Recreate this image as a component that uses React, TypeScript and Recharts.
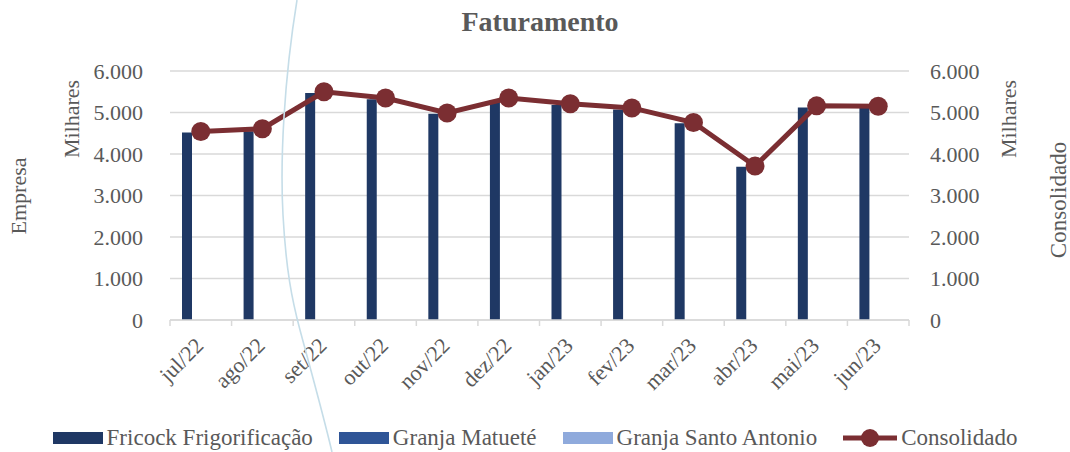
import React from 'react';
import { ComposedChart, Bar, Line, XAxis, YAxis, CartesianGrid } from 'recharts';

const months = ['jul/22', 'ago/22', 'set/22', 'out/22', 'nov/22', 'dez/22', 'jan/23', 'fev/23', 'mar/23', 'abr/23', 'mai/23', 'jun/23'];
const fricock = [4520, 4550, 5470, 5320, 4970, 5300, 5180, 5070, 4740, 3690, 5120, 5110];
const matuete = [0, 0, 0, 0, 0, 0, 0, 0, 0, 0, 0, 0];
const santoAntonio = [0, 0, 0, 0, 0, 0, 0, 0, 0, 0, 0, 0];
const consolidado = [4540, 4610, 5500, 5350, 4990, 5350, 5210, 5110, 4760, 3710, 5160, 5150];
const yTicks = [0, 1000, 2000, 3000, 4000, 5000, 6000];

const GREY = '#595959';
const GRID = '#D9D9D9';
const FONT = '"Liberation Serif", "Times New Roman", serif';

const series = [
  { key: 'fricock', name: 'Fricock Frigorificação', color: '#1F3864' },
  { key: 'matuete', name: 'Granja Matueté', color: '#2F5597' },
  { key: 'santoAntonio', name: 'Granja Santo Antonio', color: '#8FAADC' },
];
const lineColor = '#7B2E32';

const data = months.map((m, i) => ({
  month: m,
  fricock: fricock[i],
  matuete: matuete[i],
  santoAntonio: santoAntonio[i],
  consolidado: consolidado[i],
}));

const fmt = (v: number) => String(v).replace(/\B(?=(\d{3})+(?!\d))/g, '.');

const XTick = (props: any) => {
  const { x, y, payload, index } = props;
  const half = payload && payload.offset ? payload.offset : 30.8;
  const last = index === months.length - 1;
  return (
    <g>
      <line x1={x - half} y1={y} x2={x - half} y2={y + 6} stroke={GRID} strokeWidth={1.5} />
      {last && <line x1={x + half} y1={y} x2={x + half} y2={y + 6} stroke={GRID} strokeWidth={1.5} />}
      <text
        x={0}
        y={0}
        transform={`translate(${x + 4},${y + 27}) rotate(-45)`}
        textAnchor="end"
        fill={GREY}
        fontSize={22}
        fontFamily={FONT}
      >
        {payload.value}
      </text>
    </g>
  );
};

export default function App() {
  return (
    <div style={{ position: 'absolute', left: 0, top: 0, width: 1070, height: 452, background: '#fff', overflow: 'hidden', fontFamily: FONT }}>
      <ComposedChart width={1070} height={452} data={data} margin={{ top: 71, right: 0, bottom: 0, left: 0 }} barGap={4} barSize={10}>
        <CartesianGrid vertical={false} stroke={GRID} strokeWidth={1.5} yAxisId="left" />
        <XAxis
          dataKey="month"
          interval={0}
          height={132}
          tickLine={false}
          tickSize={0}
          tickMargin={0}
          axisLine={{ stroke: GRID, strokeWidth: 1.5 }}
          tick={<XTick />}
        />
        <YAxis
          yAxisId="left"
          width={170}
          domain={[0, 6000]}
          ticks={yTicks}
          tickFormatter={fmt}
          axisLine={false}
          tickLine={false}
          tickSize={0}
          tickMargin={27}
          tick={{ fill: GREY, fontSize: 22, fontFamily: FONT }}
        />
        <YAxis
          yAxisId="right"
          orientation="right"
          width={161}
          domain={[0, 6000]}
          ticks={yTicks}
          tickFormatter={fmt}
          axisLine={false}
          tickLine={false}
          tickSize={0}
          tickMargin={21}
          tick={{ fill: GREY, fontSize: 22, fontFamily: FONT, textAnchor: 'start' }}
        />
        {series.map((s) => (
          <Bar key={s.key} yAxisId="left" dataKey={s.key} name={s.name} fill={s.color} isAnimationActive={false} />
        ))}
        <Line
          yAxisId="right"
          dataKey="consolidado"
          name="Consolidado"
          stroke={lineColor}
          strokeWidth={5}
          dot={{ r: 9.5, fill: lineColor, stroke: lineColor, strokeWidth: 0 }}
          activeDot={false}
          isAnimationActive={false}
        />
      </ComposedChart>

      <svg width={1070} height={452} style={{ position: 'absolute', left: 0, top: 0, pointerEvents: 'none' }}>
        <path d="M297,0 C284,80 280,160 283,215 S292,300 300,330 S322,410 332,452" fill="none" stroke="#C5DDE8" strokeWidth={1.6} />
        <text x={540} y={31} textAnchor="middle" fill={GREY} fontSize={28} fontWeight="bold" fontFamily={FONT}>
          Faturamento
        </text>
        <text transform="translate(26,196) rotate(-90)" textAnchor="middle" fill={GREY} fontSize={22} fontFamily={FONT}>
          Empresa
        </text>
        <text transform="translate(79,119) rotate(-90)" textAnchor="middle" fill={GREY} fontSize={22} fontFamily={FONT}>
          Milhares
        </text>
        <text transform="translate(1016,119) rotate(-90)" textAnchor="middle" fill={GREY} fontSize={22} fontFamily={FONT}>
          Milhares
        </text>
        <text transform="translate(1066,200) rotate(-90)" textAnchor="middle" fill={GREY} fontSize={23} fontFamily={FONT}>
          Consolidado
        </text>
      </svg>

      <div style={{ position: 'absolute', left: 0, top: 424, width: 1070, height: 28, display: 'flex', justifyContent: 'center', alignItems: 'center', gap: 26, color: GREY, fontSize: 23, fontFamily: FONT, whiteSpace: 'nowrap' }}>
        {series.map((s) => (
          <div key={s.key} style={{ display: 'flex', alignItems: 'center', gap: 4 }}>
            <span style={{ display: 'inline-block', width: 50, height: 12, background: s.color }} />
            <span>{s.name}</span>
          </div>
        ))}
        <div style={{ display: 'flex', alignItems: 'center', gap: 4 }}>
          <svg width={54} height={20}>
            <line x1={0} y1={10} x2={54} y2={10} stroke={lineColor} strokeWidth={5} />
            <circle cx={27} cy={10} r={9} fill={lineColor} />
          </svg>
          <span>Consolidado</span>
        </div>
      </div>
    </div>
  );
}
